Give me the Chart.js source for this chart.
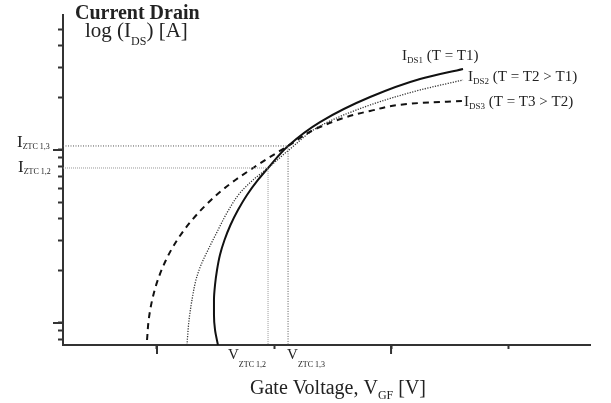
<!DOCTYPE html>
<html>
<head>
<meta charset="utf-8">
<script src="https://cdn.jsdelivr.net/npm/chart.js@4/dist/chart.umd.min.js"></script>
<style>
  body { margin: 0; background: #fff; }
</style>
</head>
<body>
<canvas id="chart" width="611" height="403"></canvas>
<script>
// axis ranges and tick positions (gate voltage: arbitrary units, drain current: log scale)
const xRange = [0.197, 4.70];
const yRange = [0.746, 60.3];
const xTicks = [1, 2, 3, 4];
const xMajor = [1, 3];
const yTicks = [0.8, 0.9, 1, 2, 3, 4, 5, 6, 7, 8, 9, 10, 20, 30, 40, 50];
const yMajor = [1, 10];

// zero temperature coefficient points: [1,2] and [1,3]
const vZtc = [1.949, 2.120];
const iZtc = [7.87, 10.55];

// I_DS1 (T = T1)
const t1Volt = [1.521, 1.496, 1.487, 1.487, 1.496, 1.513, 1.538, 1.577, 1.628, 1.692, 1.769, 1.863, 1.949, 2.120, 2.393, 2.821, 3.248, 3.615];
const t1Curr = [0.746, 0.911, 1.112, 1.358, 1.659, 2.025, 2.473, 3.018, 3.686, 4.499, 5.495, 6.709, 7.870, 10.55, 14.51, 20.25, 25.73, 29.39];
// I_DS2 (T = T2 > T1)
const t2Volt = [1.256, 1.274, 1.299, 1.333, 1.376, 1.436, 1.513, 1.607, 1.709, 1.821, 1.949, 2.137, 2.393, 2.821, 3.248, 3.615];
const t2Curr = [0.746, 1.041, 1.358, 1.773, 2.164, 2.642, 3.357, 4.440, 5.643, 6.709, 7.870, 10.13, 13.76, 18.20, 22.23, 25.39];
// I_DS3 (T = T3 > T2)
const t3Volt = [0.915, 0.929, 0.959, 1.007, 1.077, 1.146, 1.232, 1.337, 1.462, 1.559, 1.670, 1.821, 1.953, 2.120, 2.393, 2.821, 3.248, 3.607];
const t3Curr = [0.797, 1.041, 1.358, 1.773, 2.313, 2.824, 3.448, 4.210, 5.140, 5.873, 6.709, 7.870, 8.992, 10.55, 13.58, 16.81, 18.70, 19.20];

const pts = (xs, ys) => xs.map((x, i) => ({x: x, y: ys[i]}));

const SERIF = '"Liberation Serif", "Times New Roman", serif';

// draw text pieces, some of them lowered as subscripts
function drawParts(ctx, x, y, parts) {
  for (const p of parts) {
    ctx.font = (p.bold ? 'bold ' : '') + p.size + 'px ' + SERIF;
    ctx.fillText(p.t, x, y + (p.dy || 0));
    x += ctx.measureText(p.t).width;
  }
}

const labelsPlugin = {
  id: 'labels',
  afterDraw(chart) {
    const ctx = chart.ctx;
    const xs = chart.scales.x, ys = chart.scales.y;
    ctx.save();
    ctx.fillStyle = '#222';
    ctx.textBaseline = 'alphabetic';
    ctx.textAlign = 'left';

    // longer marks for the major ticks
    ctx.strokeStyle = '#333';
    ctx.lineWidth = 2;
    for (const v of yMajor) {
      const py = ys.getPixelForValue(v);
      ctx.beginPath(); ctx.moveTo(ys.right - 10, py); ctx.lineTo(ys.right, py); ctx.stroke();
    }
    for (const v of xMajor) {
      const px = xs.getPixelForValue(v);
      ctx.beginPath(); ctx.moveTo(px, xs.top); ctx.lineTo(px, xs.top + 9); ctx.stroke();
    }

    // axis titles
    drawParts(ctx, 75, 19, [{t: 'Current Drain', size: 20, bold: true}]);
    drawParts(ctx, 85, 37, [{t: 'log (I', size: 21}, {t: 'DS', size: 12, dy: 8}, {t: ') [A]', size: 21}]);
    drawParts(ctx, 250, 394, [{t: 'Gate Voltage, V', size: 20}, {t: 'GF', size: 12, dy: 5}, {t: ' [V]', size: 20}]);

    // ZTC labels on the axes
    const py13 = ys.getPixelForValue(iZtc[1]);
    const py12 = ys.getPixelForValue(iZtc[0]);
    drawParts(ctx, 17, py13 + 1, [{t: 'I', size: 17}, {t: 'ZTC 1,3', size: 8, dy: 2}]);
    drawParts(ctx, 18, py12 + 4, [{t: 'I', size: 17}, {t: 'ZTC 1,2', size: 8, dy: 2}]);
    const px12 = xs.getPixelForValue(vZtc[0]);
    const px13 = xs.getPixelForValue(vZtc[1]);
    drawParts(ctx, px12 - 40, 359, [{t: 'V', size: 15}, {t: 'ZTC 1,2', size: 8, dy: 8}]);
    drawParts(ctx, px13 - 1, 359, [{t: 'V', size: 15}, {t: 'ZTC 1,3', size: 8, dy: 8}]);

    // curve labels
    drawParts(ctx, 402, 60, [{t: 'I', size: 15}, {t: 'DS1', size: 9, dy: 3}, {t: ' (T = T1)', size: 15}]);
    drawParts(ctx, 468, 81, [{t: 'I', size: 15}, {t: 'DS2', size: 9, dy: 3}, {t: ' (T = T2 > T1)', size: 15}]);
    drawParts(ctx, 464, 106, [{t: 'I', size: 15}, {t: 'DS3', size: 9, dy: 3}, {t: ' (T = T3 > T2)', size: 15}]);
    ctx.restore();
  }
};

new Chart(document.getElementById('chart'), {
  type: 'line',
  plugins: [labelsPlugin],
  data: {
    datasets: [
      {
        // I_ZTC 1,3 / V_ZTC 1,3 guide
        data: [{x: xRange[0], y: iZtc[1]}, {x: vZtc[1], y: iZtc[1]}, {x: vZtc[1], y: yRange[0]}],
        borderColor: '#555', borderWidth: 1, borderDash: [1, 1.5], pointRadius: 0, tension: 0
      },
      {
        // I_ZTC 1,2 / V_ZTC 1,2 guide
        data: [{x: xRange[0], y: iZtc[0]}, {x: vZtc[0], y: iZtc[0]}, {x: vZtc[0], y: yRange[0]}],
        borderColor: '#999', borderWidth: 1, borderDash: [1, 1], pointRadius: 0, tension: 0
      },
      {
        data: pts(t3Volt, t3Curr),
        borderColor: '#111', borderWidth: 2, borderDash: [6, 5], pointRadius: 0,
        cubicInterpolationMode: 'monotone'
      },
      {
        data: pts(t2Volt, t2Curr),
        borderColor: '#333', borderWidth: 1.3, borderDash: [1.2, 1.4], pointRadius: 0,
        cubicInterpolationMode: 'monotone'
      },
      {
        data: pts(t1Volt, t1Curr),
        borderColor: '#111', borderWidth: 2, pointRadius: 0,
        cubicInterpolationMode: 'monotone'
      }
    ]
  },
  options: {
    responsive: false,
    animation: false,
    // curves are functions of the current, so interpolate along y
    indexAxis: 'y',
    layout: { padding: { top: 15, right: 21, left: 0, bottom: 0 } },
    plugins: { legend: { display: false }, tooltip: { enabled: false } },
    scales: {
      x: {
        type: 'linear',
        min: xRange[0], max: xRange[1],
        afterBuildTicks: (s) => {
          s.ticks = xTicks.map(v => ({value: v}));
          s.min = xRange[0]; s.max = xRange[1];
        },
        afterFit: (s) => { s.height = 58; },
        ticks: { callback: () => '' },
        grid: { drawOnChartArea: false, drawTicks: true, tickLength: 4, tickColor: '#333', tickWidth: 2 },
        border: { display: true, color: '#333', width: 2 }
      },
      y: {
        type: 'logarithmic',
        min: yRange[0], max: yRange[1],
        afterBuildTicks: (s) => {
          s.ticks = yTicks.map(v => ({value: v}));
          // the log scale rounds its lower bound, put it back
          s.min = yRange[0]; s.max = yRange[1];
        },
        afterFit: (s) => { s.width = 63; },
        ticks: { callback: () => '' },
        grid: { drawOnChartArea: false, drawTicks: true, tickLength: 5, tickColor: '#333', tickWidth: 2 },
        border: { display: true, color: '#333', width: 2 }
      }
    }
  }
});
</script>
</body>
</html>
